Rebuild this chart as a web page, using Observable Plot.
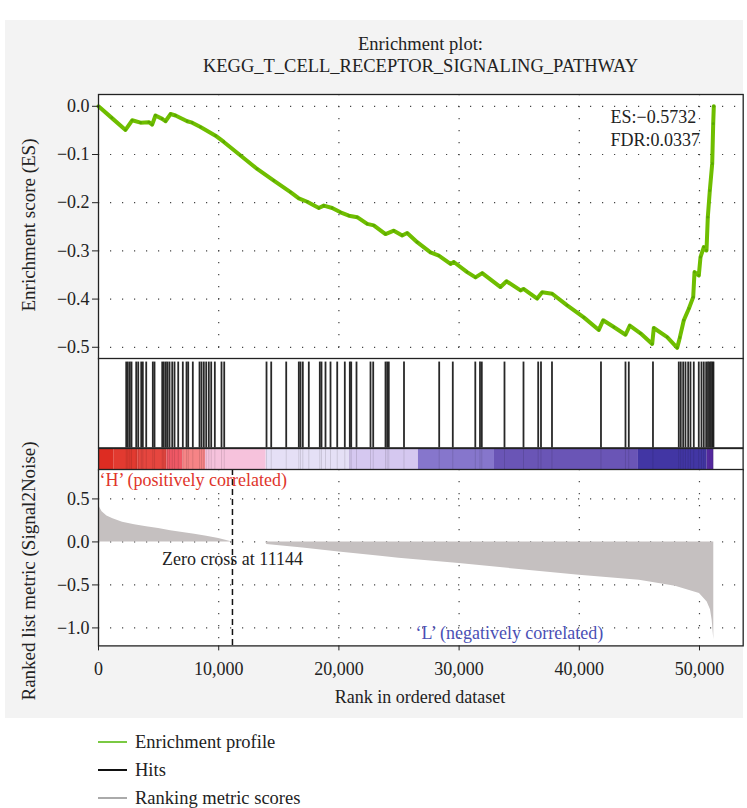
<!DOCTYPE html>
<html>
<head>
<meta charset="utf-8">
<script src="https://cdn.jsdelivr.net/npm/d3@7"></script>
<script src="https://cdn.jsdelivr.net/npm/@observablehq/plot@0.6"></script>
<style>
  html, body { margin: 0; padding: 0; background: #ffffff; }
  #root { position: relative; width: 747px; height: 808px; font-family: "Liberation Serif", "Times New Roman", serif; color: #222; }
  #panel { position: absolute; left: 5px; top: 20px; width: 738px; height: 698px; background: #f3f3f3; }
  .abs { position: absolute; }
  .title { position: absolute; left: 98px; width: 645px; text-align: center; font-size: 18.5px; line-height: 22px; }
  .ylab { position: absolute; font-size: 19px; white-space: nowrap; transform: translate(-50%, -50%) rotate(-90deg); }
  .xlab { position: absolute; font-size: 18px; white-space: nowrap; transform: translate(-50%, -50%); }
  .leg { position: absolute; left: 98px; font-size: 18.5px; display: flex; align-items: center; height: 22px; }
  .leg span.sw { display: inline-block; width: 29px; height: 0; border-top: 2px solid; margin-right: 8px; }
</style>
</head>
<body>
<div id="root">
  <div id="panel"></div>
  <div class="title" style="top:33px">Enrichment plot:</div>
  <div class="title" style="top:55px">KEGG_T_CELL_RECEPTOR_SIGNALING_PATHWAY</div>
  <div class="ylab" style="left:29px; top:225px">Enrichment score (ES)</div>
  <div class="ylab" style="left:29px; top:571px">Ranked list metric (Signal2Noise)</div>
  <div class="xlab" style="left:420px; top:697px">Rank in ordered dataset</div>
  <div class="leg" style="top:731px"><span class="sw" style="border-color:#7ac943"></span>Enrichment profile</div>
  <div class="leg" style="top:759px"><span class="sw" style="border-color:#111"></span>Hits</div>
  <div class="leg" style="top:787px"><span class="sw" style="border-color:#aaa"></span>Ranking metric scores</div>
</div>
<script>
// ---------------- data ----------------
const xTicks = [0, 10000, 20000, 30000, 40000, 50000];
const esTicks = [0, -0.1, -0.2, -0.3, -0.4, -0.5];
const metricTicks = [0.5, 0, -0.5, -1.0];

// running enrichment score
const esRank = [0, 1100, 2246, 2800, 3494, 4190, 4465, 4740, 5300, 5574, 5990, 6406, 7377, 7793, 8486, 9734, 10427, 11814, 13200, 14585, 15973, 16664, 17360, 18330, 18744, 19440, 20133, 20826, 21522, 22354, 22900, 23877, 24570, 25265, 25682, 26514, 27620, 28312, 29284, 29560, 30670, 31364, 31922, 33444, 33943, 35108, 35358, 36495, 36911, 37743, 38991, 40374, 41622, 41987, 42870, 43844, 44201, 45092, 46065, 46198, 47313, 48145, 48361, 48694, 49110, 49476, 49584, 49942, 50083, 50358, 50582, 50691, 50857, 51057, 51140, 51190];
const esValue = [0, -0.024, -0.049, -0.029, -0.034, -0.033, -0.038, -0.019, -0.026, -0.031, -0.016, -0.019, -0.031, -0.034, -0.043, -0.061, -0.074, -0.102, -0.130, -0.154, -0.178, -0.191, -0.198, -0.211, -0.206, -0.211, -0.220, -0.227, -0.230, -0.244, -0.247, -0.265, -0.258, -0.268, -0.263, -0.282, -0.303, -0.310, -0.327, -0.323, -0.344, -0.355, -0.346, -0.375, -0.363, -0.382, -0.379, -0.399, -0.386, -0.389, -0.413, -0.438, -0.464, -0.444, -0.458, -0.474, -0.455, -0.471, -0.493, -0.460, -0.479, -0.501, -0.480, -0.444, -0.420, -0.396, -0.344, -0.351, -0.313, -0.292, -0.299, -0.230, -0.175, -0.119, -0.036, 0.0];

// gene-set hit positions (ranks)
const hitRanks = [2304, 2438, 2604, 2745, 3136, 3303, 3552, 3686, 3968, 4517, 4659, 5300, 5433, 5599, 5740, 5907, 6131, 6323, 6631, 7013, 7321, 7463, 7845, 8403, 8569, 8760, 8960, 9176, 9376, 9676, 10233, 10458, 13977, 14368, 15616, 16664, 16805, 16997, 17496, 18411, 18552, 18885, 19301, 19859, 20491, 20907, 21024, 21464, 22629, 22854, 23877, 24018, 24151, 25416, 28344, 29476, 31348, 31739, 31889, 33777, 35358, 36581, 36814, 37729, 41805, 43844, 44119, 46131, 48278, 48444, 48644, 48835, 49060, 49251, 49526, 49942, 50166, 50358, 50557, 50707, 50832, 50957, 51082, 51165];

// ranked list metric (Signal2Noise)
const metricRank = [0, 100, 300, 700, 1200, 2000, 3000, 4000, 5000, 6000, 7000, 8000, 9000, 10000, 11144, 13900, 14000, 17000, 20000, 23460, 25000, 30000, 35000, 40000, 45000, 48000, 50000, 50640, 50915, 51055, 51190];
const metricValue = [0.45, 0.40, 0.35, 0.30, 0.27, 0.23, 0.20, 0.175, 0.155, 0.13, 0.11, 0.09, 0.065, 0.04, 0, 0, -0.03, -0.07, -0.116, -0.166, -0.19, -0.251, -0.32, -0.387, -0.445, -0.515, -0.60, -0.70, -0.79, -0.91, -1.135];

// colour bar segments
const barStart = [0, 1300, 3300, 5700, 7000, 8900, 13950, 20880, 26620, 32945, 44925, 50640];
const barEnd   = [1300, 3300, 5700, 7000, 8900, 13950, 20880, 26620, 32945, 44925, 50640, 51190];
const barColor = ["#dd2c22", "#e23a30", "#e6463f", "#ef5865", "#f68486", "#f6c2dc", "#e5e0f6", "#d5c8f0", "#8676cc", "#6a55b6", "#4236a4", "#5a2ca8"];

const zeroCross = 11144;
const esText = "ES:\u22120.5732";
const fdrText = "FDR:0.0337";

// ---------------- chart ----------------
const esData = esRank.map((r, i) => ({rank: r, es: esValue[i]}));
const metricData = metricRank.map((r, i) => ({rank: r, m: metricValue[i]}));
const barData = barStart.map((s, i) => ({s, e: barEnd[i], c: barColor[i]}));

const W = 747, ML = 98, MR = 4.3;
const xDomain = [0, 53635];
const font = "'Liberation Serif', 'Times New Roman', serif";
const FS = 18;
const baseStyle = {background: "transparent", fontFamily: font, fontSize: FS + "px", color: "#222", overflow: "visible"};
const dotted = {stroke: "#444", strokeWidth: 1.2, strokeDasharray: "1.2,10.8"};
const frameStroke = {stroke: "#222", strokeWidth: 1.3};

function place(svg, top) {
  const d = document.createElement("div");
  d.className = "abs";
  d.style.left = "0px";
  d.style.top = top + "px";
  d.appendChild(svg);
  document.getElementById("root").appendChild(d);
}

// Top panel: enrichment score
const p1 = Plot.plot({
  width: W, height: 268.3, marginLeft: ML, marginRight: MR, marginTop: 2, marginBottom: 2,
  style: baseStyle,
  x: {domain: xDomain, axis: null},
  y: {domain: [-0.5239, 0.0245], axis: null},
  marks: [
    Plot.frame({fill: "white"}),
    Plot.ruleY(esTicks, {...dotted}),
    Plot.ruleX(xTicks.slice(1), {...dotted}),
    Plot.line(esData, {x: "rank", y: "es", stroke: "#6fbe00", strokeWidth: 4, strokeLinejoin: "round"}),
    Plot.dot(esData, {x: "rank", y: "es", r: 1.4, fill: "#5aa800"}),
    Plot.axisY({ticks: esTicks, tickFormat: d3.format(".1f"), tickSize: 6, tickPadding: 3, fontSize: FS, label: null}),
    Plot.text([esText], {x: 42600, y: -0.023, text: d => d, textAnchor: "start", fontSize: FS, fill: "#222"}),
    Plot.text([fdrText], {x: 42600, y: -0.071, text: d => d, textAnchor: "start", fontSize: FS, fill: "#222"}),
    Plot.frame({...frameStroke})
  ]
});
place(p1, 92);

// Hits panel
const p2 = Plot.plot({
  width: W, height: 93.4, marginLeft: ML, marginRight: MR, marginTop: 2, marginBottom: 2,
  style: baseStyle,
  x: {domain: xDomain, axis: null},
  y: {domain: [0, 1], axis: null},
  marks: [
    Plot.frame({fill: "white"}),
    Plot.ruleX(hitRanks, {y1: 0, y2: 0.96, stroke: "#111", strokeWidth: 1.8, strokeOpacity: 0.9}),
    Plot.frame({...frameStroke})
  ]
});
place(p2, 356.3);

// Colour bar
const p3 = Plot.plot({
  width: W, height: 25.6, marginLeft: ML, marginRight: MR, marginTop: 2, marginBottom: 2,
  style: baseStyle,
  x: {domain: xDomain, axis: null},
  y: {domain: [0, 1], axis: null},
  marks: [
    Plot.frame({fill: "white"}),
    Plot.rectX(barData, {x1: "s", x2: "e", y1: 0, y2: 1, fill: d => d.c}),
    Plot.ruleX(hitRanks, {y1: 0, y2: 1, stroke: "#000", strokeWidth: 1, strokeOpacity: 0.12}),
    Plot.frame({...frameStroke})
  ]
});
place(p3, 445.7);

// Bottom panel: ranked list metric
const p4 = Plot.plot({
  width: W, height: 218.4, marginLeft: ML, marginRight: MR, marginTop: 2, marginBottom: 40,
  style: baseStyle,
  x: {domain: xDomain, axis: null},
  y: {domain: [-1.209, 0.842], axis: null},
  marks: [
    Plot.frame({fill: "white"}),
    Plot.ruleY(metricTicks, {...dotted}),
    Plot.ruleX(xTicks.slice(1), {...dotted}),
    Plot.areaY(metricData, {x: "rank", y1: 0, y2: "m", fill: "#c5c0c0"}),
    Plot.ruleX([zeroCross], {stroke: "#111", strokeWidth: 1.5, strokeDasharray: "6,4"}),
    Plot.text(["\u2018H\u2019 (positively correlated)"], {x: 80, y: 0.717, text: d => d, textAnchor: "start", fill: "#e0352b", fontSize: FS}),
    Plot.text(["Zero cross at " + zeroCross], {x: zeroCross, y: -0.201, text: d => d, textAnchor: "middle", fill: "#222", fontSize: FS}),
    Plot.text(["\u2018L\u2019 (negatively correlated)"], {x: 26373, y: -1.062, text: d => d, textAnchor: "start", fill: "#4a4fb5", fontSize: FS}),
    Plot.axisY({ticks: metricTicks, tickFormat: d3.format(".1f"), tickSize: 6, tickPadding: 3, fontSize: FS, label: null}),
    Plot.axisX({ticks: xTicks, tickFormat: d3.format(","), tickSize: 5, tickPadding: 11, fontSize: FS, label: null}),
    Plot.frame({...frameStroke})
  ]
});
place(p4, 467.3);
</script>
</body>
</html>
